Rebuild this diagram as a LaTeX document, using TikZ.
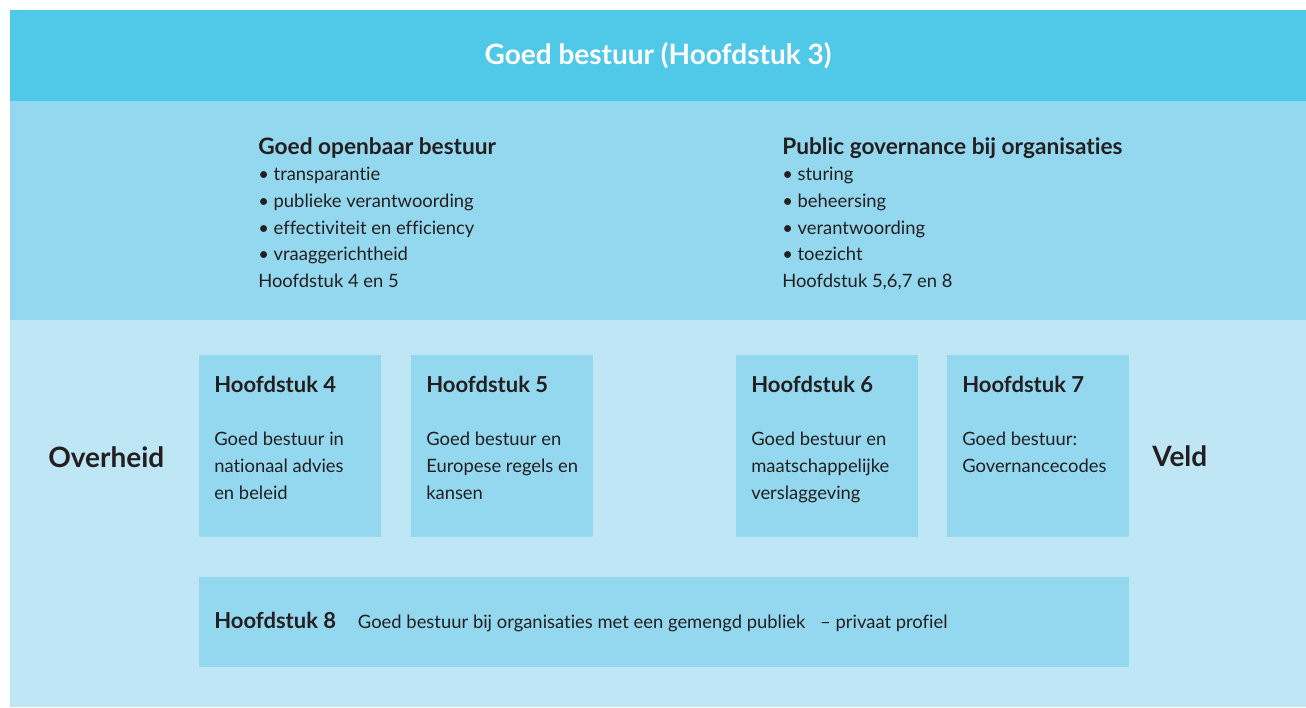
\documentclass[tikz,border=0pt]{standalone}
\usepackage{fontspec}
\setmainfont[Ligatures={TeX,NoCommon}]{Lato}
\usetikzlibrary{positioning}
\definecolor{bandtop}{RGB}{80, 200, 232}
\definecolor{bandmid}{RGB}{147, 216, 238}
\definecolor{bandlow}{RGB}{190, 230, 244}
\definecolor{inkdark}{RGB}{35, 31, 32}

\tikzset{
  band/.style={rectangle, anchor=north west, inner sep=0pt, outer sep=0pt},
  chapbox/.style={rectangle, fill=bandmid, anchor=north west, inner sep=0pt, minimum width=136.5pt, minimum height=136.5pt},
  chaphead/.style={anchor=west, inner sep=0pt, text=inkdark, font=\fontsize{16.5}{20}\selectfont\bfseries},
  chaptext/.style={anchor=north west, inner sep=0pt, text=inkdark, align=left, font=\fontsize{13.8}{20}\selectfont},
  sidelabel/.style={anchor=west, inner sep=0pt, text=inkdark, font=\fontsize{21}{25}\selectfont\bfseries}
}

\begin{document}
\begin{tikzpicture}[x=0.75pt, y=-0.75pt]
\useasboundingbox (0,0) rectangle (1306,707);

% Background bands
\node[band, fill=bandtop, minimum width=972pt, minimum height=68.25pt] (top) at (10,10) {};
\node[band, fill=bandmid, minimum width=972pt, minimum height=164.25pt] (mid) at (10,101) {};
\node[band, fill=bandlow, minimum width=972pt, minimum height=290.25pt] (low) at (10,320) {};

\node[text=white, font=\fontsize{21}{25}\selectfont\bfseries] (title) at (top.center) {Goed bestuur (Hoofdstuk 3)};

% Two themes in the middle band
\node[chaptext] (openbaar) at (258,137) {%
  {\fontsize{17}{20}\selectfont\bfseries Goed openbaar bestuur}\\
  \textbullet\ transparantie\\
  \textbullet\ publieke verantwoording\\
  \textbullet\ effectiviteit en efficiency\\
  \textbullet\ vraaggerichtheid\\
  Hoofdstuk 4 en 5};
\node[chaptext] (publiek) at (782,137) {%
  {\fontsize{17}{20}\selectfont\bfseries Public governance bij organisaties}\\
  \textbullet\ sturing\\
  \textbullet\ beheersing\\
  \textbullet\ verantwoording\\
  \textbullet\ toezicht\\
  Hoofdstuk 5,6,7 en 8};

% Chapter boxes
\node[chapbox] (h4) at (199,355) {};
\node[chapbox] (h5) at (411,355) {};
\node[chapbox] (h6) at (736,355) {};
\node[chapbox] (h7) at (947,355) {};
\node[chapbox, minimum width=697.5pt, minimum height=67.5pt] (h8) at (199,577) {};

\node[chaphead] (h4head) at ([shift={(15,29)}]h4.north west) {Hoofdstuk 4};
\node[chaphead] (h5head) at ([shift={(15,29)}]h5.north west) {Hoofdstuk 5};
\node[chaphead] (h6head) at ([shift={(15,29)}]h6.north west) {Hoofdstuk 6};
\node[chaphead] (h7head) at ([shift={(15,29)}]h7.north west) {Hoofdstuk 7};

\node[chaptext] (h4text) at ([shift={(15,77)}]h4.north west) {Goed bestuur in\\nationaal advies\\en beleid};
\node[chaptext] (h5text) at ([shift={(15,77)}]h5.north west) {Goed bestuur en\\Europese regels en\\kansen};
\node[chaptext] (h6text) at ([shift={(15,77)}]h6.north west) {Goed bestuur en\\maatschappelijke\\verslaggeving};
\node[chaptext] (h7text) at ([shift={(15,77)}]h7.north west) {Goed bestuur:\\Governancecodes};

\node[chaphead] (h8head) at ([shift={(15,-2)}]h8.west) {Hoofdstuk 8};
\node[chaphead, font=\fontsize{13.8}{20}\selectfont, anchor=base west] (h8text) at ([xshift=16pt]h8head.base east) {Goed bestuur bij organisaties met een gemengd publiek\hspace{0.8em}\textendash\ privaat profiel};

% Side labels
\node[sidelabel] (overheid) at (48,457) {Overheid};
\node[sidelabel] (veld) at (1152,456) {Veld};
\end{tikzpicture}
\end{document}
